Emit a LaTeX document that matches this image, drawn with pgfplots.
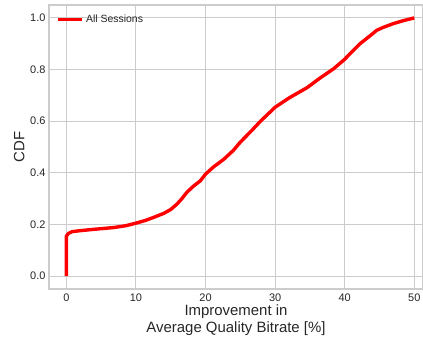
\documentclass[border=0pt]{standalone}
\usepackage{fontspec}
\setmainfont{Liberation Sans}
\usepackage{pgfplots}
\pgfplotsset{compat=1.18}
\definecolor{gridc}{HTML}{CCCCCC}
\definecolor{txt}{HTML}{262626}
\begin{document}
\begin{tikzpicture}
\begin{axis}[
  scale only axis,
  width=374bp, height=284bp,
  xmin=-2.5, xmax=51.25,
  ymin=-0.05, ymax=1.05,
  xtick={0,10,20,30,40,50},
  ytick={0,0.2,0.4,0.6,0.8,1.0},
  yticklabel style={/pgf/number format/.cd,fixed,fixed zerofill,precision=1},
  /pgf/number format/assume math mode=true,
  tick label style={font=\fontsize{11}{13}\selectfont, text=txt},
  major tick length=0pt,
  grid=major,
  major grid style={gridc, line width=1bp},
  axis line style={gridc, line width=1.5bp},
  xlabel={Improvement in\\Average Quality Bitrate [\%]},
  xlabel style={font=\fontsize{15}{16.5}\selectfont, text=txt, align=center, yshift=3bp},
  ylabel={CDF},
  ylabel style={font=\fontsize{15}{17}\selectfont, text=txt, yshift=-1bp},
  xticklabel style={yshift=-1bp},
  legend style={draw=none, fill=none, at={(0.012,0.98)}, anchor=north west,
    font=\fontsize{10.5}{12.5}\selectfont, text=txt},
  legend cell align=left,
  legend image code/.code={\draw[#1] (0bp,0bp) -- (24bp,0bp);},
]
\addplot[red, line width=3.4bp, line join=round] coordinates {
(0,0)(0,0.155)(0.3,0.165)(0.8,0.172)(2,0.176)(3.9,0.181)(6.8,0.188)(8.5,0.195)
(10,0.205)(11.3,0.215)(12.5,0.227)(14,0.243)(15,0.258)(15.9,0.279)(16.6,0.3)
(17.3,0.324)(18.2,0.347)(19.25,0.369)(20,0.395)(20.7,0.412)(21.2,0.424)(22.6,0.452)
(24,0.487)(25,0.519)(26.5,0.56)(27.9,0.6)(30,0.654)(32,0.69)(34.6,0.73)(36.5,0.768)
(38.4,0.803)(40,0.840)(41,0.868)(42.2,0.9)(43.7,0.932)(44.6,0.952)(45.5,0.963)
(47,0.978)(48.5,0.99)(50,1.0)
};
\addlegendentry{All Sessions}
\coordinate (bl) at (rel axis cs:0,0);
\coordinate (tr) at (rel axis cs:1,1);
\end{axis}
\pgfresetboundingbox
\path ([shift={(-49bp,-52bp)}]bl) rectangle ([shift={(0bp,5bp)}]tr);
\end{tikzpicture}
\end{document}
